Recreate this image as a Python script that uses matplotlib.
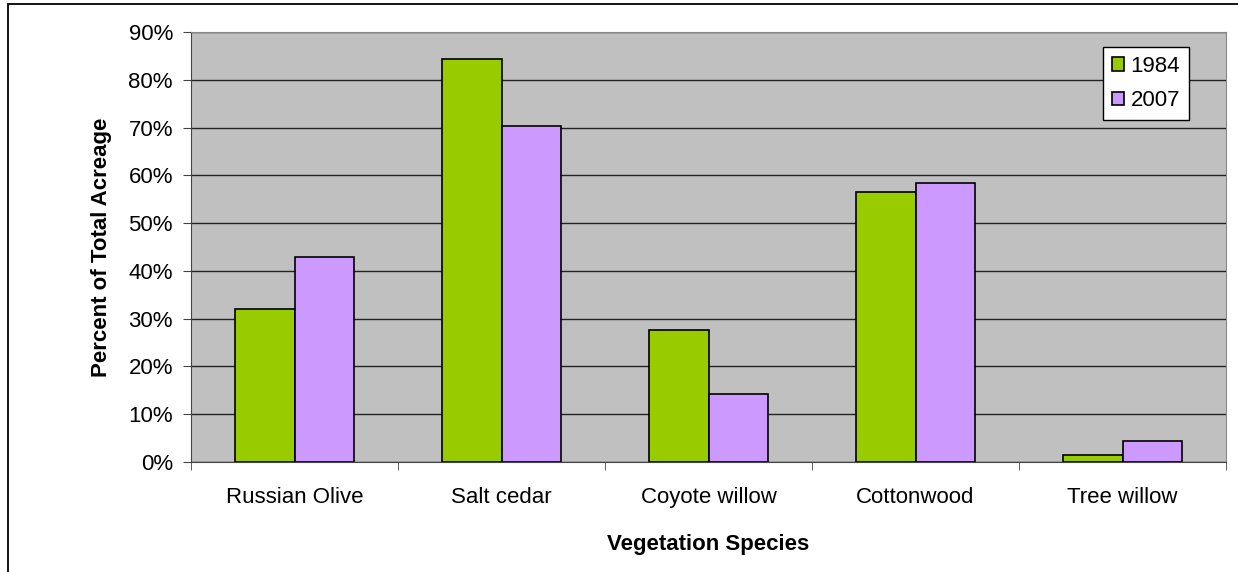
import numpy as np
import matplotlib
matplotlib.use('Agg')
import matplotlib.pyplot as plt
import matplotlib.ticker as ticker
from matplotlib.patches import Rectangle
from matplotlib import rcParams

rcParams['font.family'] = 'sans-serif'
rcParams['font.sans-serif'] = ['Liberation Sans', 'Arial', 'DejaVu Sans']

species = ['Russian Olive', 'Salt cedar', 'Coyote willow', 'Cottonwood', 'Tree willow']
pct_1984 = [32.0, 84.3, 27.6, 56.6, 1.5]
pct_2007 = [43.0, 70.3, 14.2, 58.5, 4.5]

fig = plt.figure(figsize=(12.38, 5.72), dpi=100)
ax = fig.add_axes([191/1238, 110/572, 1035/1238, 430/572])

# outer chart border (cut off at right and bottom)
fig.patches.append(Rectangle((8/1238, -0.1), 1.2, 1.1 - 4/572, transform=fig.transFigure,
                             fill=False, edgecolor='black', linewidth=1.3))

x = np.arange(len(species))
w = 1 / 3.5
ax.set_facecolor('#C0C0C0')
ax.bar(x - w/2, pct_1984, w, color='#99CC00', edgecolor='black', linewidth=1.2, label='1984', zorder=3)
ax.bar(x + w/2, pct_2007, w, color='#CC99FF', edgecolor='black', linewidth=1.2, label='2007', zorder=3)

ax.set_xlim(-0.5, len(species) - 0.5)
ax.set_ylim(0, 90)
ax.yaxis.set_major_locator(ticker.MultipleLocator(10))
ax.yaxis.set_major_formatter(ticker.FormatStrFormatter('%d%%'))
ax.grid(axis='y', color='#222222', linewidth=1.0, zorder=1)

ax.set_xticks(x)
ax.set_xticklabels(species)
ax.set_xticks(np.arange(-0.5, len(species), 1), minor=True)
ax.tick_params(axis='x', which='major', length=0, pad=18, labelsize=16)
ax.tick_params(axis='x', which='minor', length=6, color='#444444')
ax.tick_params(axis='y', length=6, labelsize=16, color='#444444', pad=7)

for s in ['top', 'right']:
    ax.spines[s].set_color('#888888')
for s in ['left', 'bottom']:
    ax.spines[s].set_color('#444444')

ax.set_xlabel('Vegetation Species', fontsize=16, fontweight='bold', labelpad=19)
ax.set_ylabel('Percent of Total Acreage', fontsize=16, fontweight='bold', labelpad=12)

leg = ax.legend(loc='upper right', bbox_to_anchor=(1 - 37/1035, 1 - 15/430), fontsize=16,
                frameon=True, fancybox=False, edgecolor='black', framealpha=1,
                handlelength=0.55, handleheight=0.55, handletextpad=0.3, borderpad=0.4,
                labelspacing=0.6, borderaxespad=0)
leg.get_frame().set_linewidth(1.0)

fig.savefig('out.png', dpi=100)
